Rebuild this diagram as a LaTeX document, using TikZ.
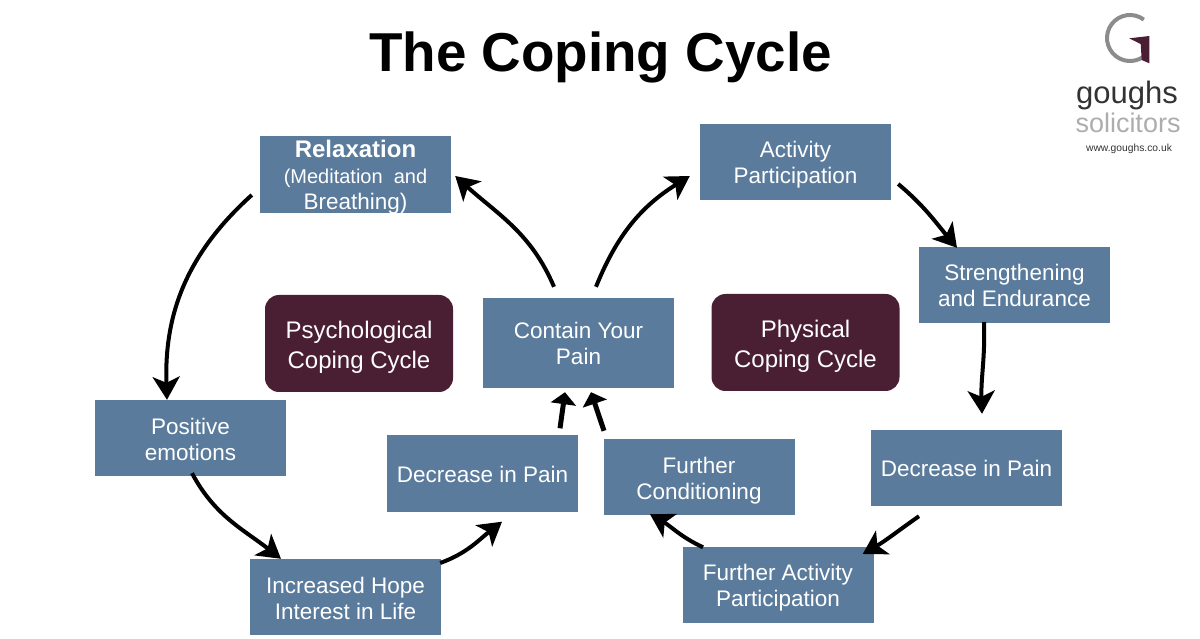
\documentclass[tikz,border=0pt]{standalone}
\usepackage{fontspec}
\setmainfont{Liberation Sans}
\usetikzlibrary{arrows.meta}
\definecolor{boxblue}{HTML}{5A7B9C}
\definecolor{boxplum}{HTML}{4A1F33}
\tikzstyle{block} = [rectangle, fill=boxblue, text=white, align=center, inner sep=0pt,
    minimum width=191pt, minimum height=76pt, font=\fontsize{22.5}{26}\selectfont,
    text height=17pt, text depth=0pt]
\tikzstyle{twoline} = [block, text height=44pt, text depth=0pt]
\tikzstyle{cyclebox} = [rectangle, rounded corners=14pt, fill=boxplum, text=white, align=center, inner sep=0pt,
    minimum width=188pt, minimum height=97pt, font=\fontsize{24}{30}\selectfont,
    text height=50pt, text depth=0pt]
\tikzstyle{flow} = [draw=black, line width=4pt, -{Stealth[length=23pt,width=27pt,inset=6pt]}]
\tikzstyle{shortflow} = [draw=black, line width=5pt, -{Triangle[length=12pt,width=25pt]}]
\begin{document}
\begin{tikzpicture}[x=1pt, y=1pt]
		\useasboundingbox (0,0) rectangle (1200,638);
		\node [font=\bfseries\fontsize{54.8}{60}\selectfont] (title) at (600.5,581) {The Coping Cycle};
		\node [block, minimum height=77pt, text height=70pt] (relax) at (355.5,463.5) {{\bfseries\fontsize{24}{26}\selectfont Relaxation} \\
			\fontsize{20}{23}\selectfont (Meditation\ \ and \\ Breathing)};
		\node [twoline] (activity) at (795.5,476) {Activity \\ Participation};
		\node [twoline] (strength) at (1014.5,353) {Strengthening \\ and Endurance};
		\node [twoline, minimum height=90pt] (contain) at (578.5,295) {Contain Your \\ Pain};
		\node [cyclebox] (psych) at (359,294.5) {Psychological \\ Coping Cycle};
		\node [cyclebox] (phys) at (805.5,295.5) {Physical \\ Coping Cycle};
		\node [twoline] (positive) at (190.5,200) {Positive \\ emotions};
		\node [block] (declow) at (482.5,164.5) {Decrease in Pain};
		\node [twoline] (further) at (699,161) {Further \\ Conditioning};
		\node [block] (decright) at (966.5,170) {Decrease in Pain};
		\node [twoline] (hope) at (345.5,41) {Increased Hope \\ Interest in Life};
		\node [twoline] (factivity) at (778,53.5) {Further Activity \\ Participation};
		
		\draw [flow] ([shift={(-8,-20.5)}]relax.west) to [out=222, in=92] ([xshift=-23.5pt]positive.north);
		\draw [flow] ([shift={(1.5,3)}]positive.south) to [out=-62, in=142] ([xshift=-64.5pt]hope.north);
		\draw [flow] ([shift={(-1,34)}]hope.east) to [out=20, in=218] ([shift={(19.5,-10)}]declow.south);
		\draw [shortflow] ([shift={(77.5,7)}]declow.north) -- ([shift={(-13.5,-4)}]contain.south);
		\draw [shortflow] ([shift={(-95,8)}]further.north) -- ([shift={(12.5,-4)}]contain.south);
		\draw [flow] ([shift={(-75,-1)}]factivity.north) to [out=155, in=-30] ([shift={(-49,1)}]further.south);
		\draw [flow] ([shift={(-47.5,-10)}]decright.south) to [out=215, in=30] ([shift={(-11,30.5)}]factivity.east);
		\draw [flow] ([shift={(-30.5,1)}]strength.south) to [out=-88, in=92] ([shift={(15.5,16)}]decright.north);
		\draw [flow] ([shift={(7,-22)}]activity.east) to [out=-40, in=130] ([shift={(-57.5,-1)}]strength.north);
		\draw [flow] ([shift={(17.5,11)}]contain.north) to [out=68, in=212] ([shift={(-10,-14)}]activity.west);
		\draw [flow] ([shift={(-24.5,11)}]contain.north) to [out=113, in=-42] ([shift={(4,-1.5)}]relax.east);
		
		% logo
		\coordinate (gmid) at (1130,600);
		\draw [line width=4pt, color=black!45] ([shift={(53:23)}]gmid) arc [start angle=53, end angle=303, radius=23];
		\fill [boxplum] (1129.3,599.7) -- (1149.3,602) -- (1149.3,574.7) -- (1141.7,578) -- (1140.7,594) -- cycle;
		\node [font=\fontsize{31}{34}\selectfont, text=black!80] (goughs) at (1127,543) {goughs};
		\node [font=\fontsize{27}{30}\selectfont, text=black!32] (solicitors) at (1128,515) {solicitors};
		\node [font=\fontsize{10.3}{12}\selectfont, text=black!80] (website) at (1129,489) {www.goughs.co.uk};
\end{tikzpicture}
\end{document}
